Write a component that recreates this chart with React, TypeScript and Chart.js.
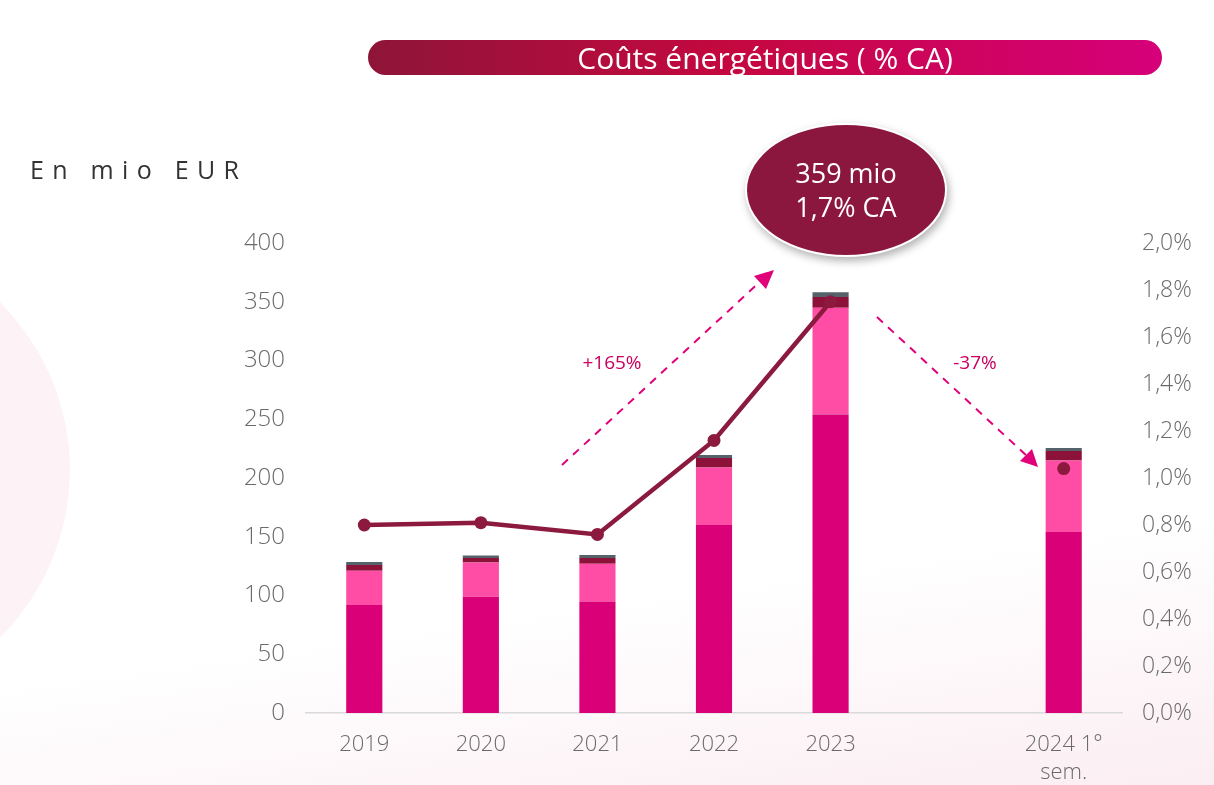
import React, { useEffect, useRef } from "react";
import { Chart, registerables } from "chart.js";

Chart.register(...registerables);

const categories: (string | string[])[] = ["2019", "2020", "2021", "2022", "2023", "", ["2024 1°", "sem."]];
const energyMain: (number | null)[] = [92, 99, 95, 160, 254, null, 154];
const energySecond: (number | null)[] = [29, 29, 32, 49, 91, null, 61];
const energyThird: (number | null)[] = [5, 4, 5, 8, 9, null, 8];
const energyOther: (number | null)[] = [2.5, 2, 2.5, 2.5, 4, null, 2.5];
const pctRevenue: (number | null)[] = [0.8, 0.81, 0.76, 1.16, 1.75, null, 1.04];
const leftTicks = { min: 0, max: 400, step: 50 };
const rightTicks = { min: 0, max: 2, step: 0.2 };

const FONT = "'Open Sans', 'Lato', sans-serif";

export default function App() {
  const canvasRef = useRef<HTMLCanvasElement | null>(null);

  useEffect(() => {
    if (!canvasRef.current) return;
    const chart = new Chart(canvasRef.current, {
      type: "bar",
      data: {
        labels: categories,
        datasets: [
          {
            type: "line",
            label: "% CA",
            data: pctRevenue,
            yAxisID: "y1",
            borderColor: "#8C1A3E",
            backgroundColor: "#8C1A3E",
            borderWidth: 4.5,
            pointRadius: 6.5,
            pointBackgroundColor: "#8C1A3E",
            pointBorderWidth: 0,
            tension: 0,
            spanGaps: false,
            order: 0,
          } as any,
          { label: "a", data: energyMain, backgroundColor: "#DA0078", stack: "s", order: 1 },
          { label: "b", data: energySecond, backgroundColor: "#FF4DA6", stack: "s", order: 1 },
          { label: "c", data: energyThird, backgroundColor: "#8C1239", stack: "s", order: 1 },
          { label: "d", data: energyOther, backgroundColor: "#56626A", stack: "s", order: 1 },
        ],
      },
      options: {
        animation: false,
        responsive: false,
        maintainAspectRatio: false,
        layout: { padding: { top: 243, left: 0, right: 0, bottom: 0 } },
        plugins: { legend: { display: false }, tooltip: { enabled: false } },
        datasets: { bar: { categoryPercentage: 1, barPercentage: 0.31 } },
        scales: {
          x: {
            stacked: true,
            grid: { display: false, drawTicks: false },
            border: { display: true, color: "#D9D9D9", width: 1.5 },
            ticks: {
              color: "#6a6a6a",
              font: { family: FONT, size: 22, weight: 300, lineHeight: 1.3 },
              padding: 17,
              maxRotation: 0,
              autoSkip: false,
            },
            afterFit: (s: any) => { s.height = 72; },
          },
          y: {
            stacked: true,
            position: "left",
            min: leftTicks.min,
            max: leftTicks.max,
            grid: { display: false, drawTicks: false },
            border: { display: false },
            ticks: {
              stepSize: leftTicks.step,
              color: "#6a6a6a",
              font: { family: FONT, size: 24, weight: 300 },
              padding: 21,
            },
            afterFit: (s: any) => { s.width = 306; },
          },
          y1: {
            position: "right",
            min: rightTicks.min,
            max: rightTicks.max,
            grid: { display: false, drawTicks: false },
            border: { display: false },
            ticks: {
              stepSize: rightTicks.step,
              color: "#6a6a6a",
              font: { family: FONT, size: 23, weight: 300 },
              padding: 20,
              callback: (v: any) => Number(v).toFixed(1).replace(".", ",") + "%",
            },
            afterFit: (s: any) => { s.width = 92; },
          },
        },
      },
    });
    return () => chart.destroy();
  }, []);

  return (
    <div
      style={{
        position: "fixed",
        left: 0,
        top: 0,
        width: 1214,
        height: 785,
        overflow: "hidden",
        background: "linear-gradient(172deg, #ffffff 0%, #ffffff 72%, #fbeef3 100%)",
        fontFamily: FONT,
      }}
    >
      <div
        style={{
          position: "absolute",
          left: -470,
          top: 220,
          width: 540,
          height: 500,
          borderRadius: "50%",
          background: "#fdf3f6",
        }}
      />
      <canvas ref={canvasRef} width={1214} height={785} style={{ position: "absolute", left: 0, top: 0 }} />
      <div
        style={{
          position: "absolute",
          left: 368,
          top: 40,
          width: 794,
          height: 35,
          borderRadius: 18,
          background: "linear-gradient(90deg, #8E1538 0%, #C4083F 45%, #D6007A 100%)",
          color: "#fff",
          fontSize: 30,
          lineHeight: "35px",
          textAlign: "center",
        }}
      >
        Coûts énergétiques ( % CA)
      </div>
      <div
        style={{
          position: "absolute",
          left: 30,
          top: 152,
          fontSize: 25,
          letterSpacing: 8.3,
          color: "#333",
        }}
      >
        En mio EUR
      </div>
      <div
        style={{
          position: "absolute",
          left: 745,
          top: 123,
          width: 202,
          height: 134,
          borderRadius: "50%",
          background: "#8C173E",
          border: "2px solid #fff",
          boxShadow: "2px 4px 8px rgba(0,0,0,0.3)",
          boxSizing: "border-box",
          color: "#fff",
          fontSize: 27,
          lineHeight: "34px",
          display: "flex",
          flexDirection: "column",
          justifyContent: "center",
          alignItems: "center",
        }}
      >
        <div>359 mio</div>
        <div>1,7% CA</div>
      </div>
      <svg width={1214} height={785} style={{ position: "absolute", left: 0, top: 0, pointerEvents: "none" }}>
        <line x1={562} y1={465} x2={764} y2={278} stroke="#E0007A" strokeWidth={2} strokeDasharray="8 7" />
        <polygon points="774,270 754,276 766,289" fill="#E0007A" />
        <line x1={877} y1={317} x2={1028} y2={457} stroke="#E0007A" strokeWidth={2} strokeDasharray="8 7" />
        <polygon points="1038,467 1020,461 1032,449" fill="#E0007A" />
        <text x={612} y={369} fill="#C8005F" fontSize={19} textAnchor="middle" fontFamily="'Open Sans', sans-serif">+165%</text>
        <text x={975} y={369} fill="#C8005F" fontSize={19} textAnchor="middle" fontFamily="'Open Sans', sans-serif">-37%</text>
      </svg>
    </div>
  );
}
